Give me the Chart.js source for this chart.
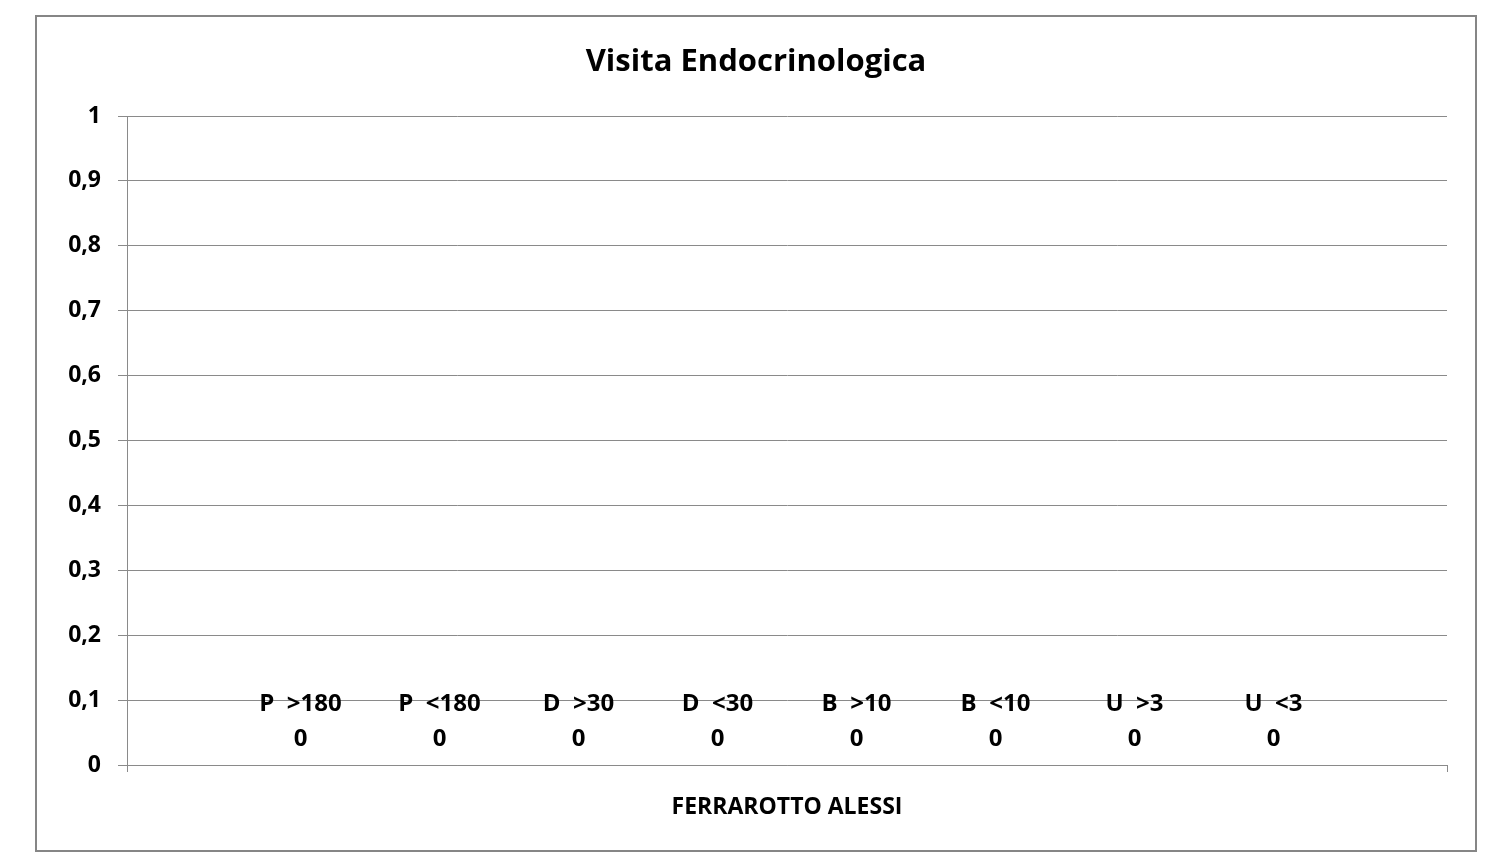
<!DOCTYPE html>
<html>
<head>
<meta charset="utf-8">
<script src="https://cdn.jsdelivr.net/npm/chart.js@4"></script>
<style>
  html, body { margin: 0; padding: 0; background: #fff; }
  #wrap { width: 1493px; height: 854px; position: relative; }
</style>
</head>
<body>
<div id="wrap"><canvas id="chart"></canvas></div>
<script>
const categories = ['FERRAROTTO ALESSI'];
const seriesNames = ['P  >180', 'P  <180', 'D  >30', 'D  <30', 'B  >10', 'B  <10', 'U  >3', 'U  <3'];
const seriesValues = [[0], [0], [0], [0], [0], [0], [0], [0]];
const yTicks = [0, 0.1, 0.2, 0.3, 0.4, 0.5, 0.6, 0.7, 0.8, 0.9, 1];

const FONT = '"Open Sans", Lato, sans-serif';
const GRID = '#8a8a8a';
const colors = ['#4F81BD', '#C0504D', '#9BBB59', '#8064A2', '#4BACC6', '#F79646', '#2C4D75', '#772C2A'];

// frame + title, like the Excel chart area
const frame = {
  id: 'frame',
  beforeDraw(chart) {
    const ctx = chart.ctx;
    ctx.save();
    ctx.strokeStyle = '#868686';
    ctx.lineWidth = 2;
    ctx.strokeRect(36, 16, 1440, 835);
    ctx.fillStyle = '#000';
    ctx.font = 'bold 31px ' + FONT;
    ctx.textAlign = 'center';
    ctx.textBaseline = 'middle';
    ctx.fillText('Visita Endocrinologica', 756, 62);
    ctx.restore();
  }
};

// data labels: series name and value above each bar
const barLabels = {
  id: 'barLabels',
  afterDatasetsDraw(chart) {
    const ctx = chart.ctx;
    ctx.save();
    ctx.fillStyle = '#000';
    ctx.font = 'bold 24px ' + FONT;
    ctx.textAlign = 'center';
    ctx.textBaseline = 'middle';
    chart.data.datasets.forEach((ds, i) => {
      chart.getDatasetMeta(i).data.forEach((bar, j) => {
        const v = ds.data[j];
        ctx.fillText(ds.label, bar.x, bar.y - 61);
        ctx.fillText(String(v).replace('.', ','), bar.x, bar.y - 26);
      });
    });
    ctx.restore();
  }
};

new Chart(document.getElementById('chart'), {
  type: 'bar',
  data: {
    labels: categories,
    datasets: seriesNames.map((name, i) => ({
      label: name,
      data: seriesValues[i],
      backgroundColor: colors[i],
      categoryPercentage: 1112 / 1320,
      barPercentage: 1
    }))
  },
  options: {
    responsive: true,
    maintainAspectRatio: false,
    animation: false,
    layout: { padding: { left: 0, right: 46, top: 116, bottom: 0 } },
    plugins: {
      legend: { display: false },
      title: { display: false },
      tooltip: { enabled: false }
    },
    scales: {
      x: {
        grid: { drawOnChartArea: false, drawTicks: true, tickLength: 7, color: GRID },
        border: { color: GRID },
        ticks: { color: '#000', font: { family: FONT, size: 23, weight: 'bold' }, padding: 22 },
        afterFit(scale) { scale.height = 89; }
      },
      y: {
        min: 0,
        max: 1,
        afterBuildTicks(scale) { scale.ticks = yTicks.map(v => ({ value: v })); },
        grid: { color: GRID, tickLength: 9 },
        border: { color: GRID },
        ticks: {
          color: '#000',
          font: { family: FONT, size: 23, weight: 'bold' },
          padding: 17,
          callback: v => String(v).replace('.', ',')
        },
        afterFit(scale) { scale.width = 127; }
      }
    }
  },
  plugins: [frame, barLabels]
});
</script>
</body>
</html>
